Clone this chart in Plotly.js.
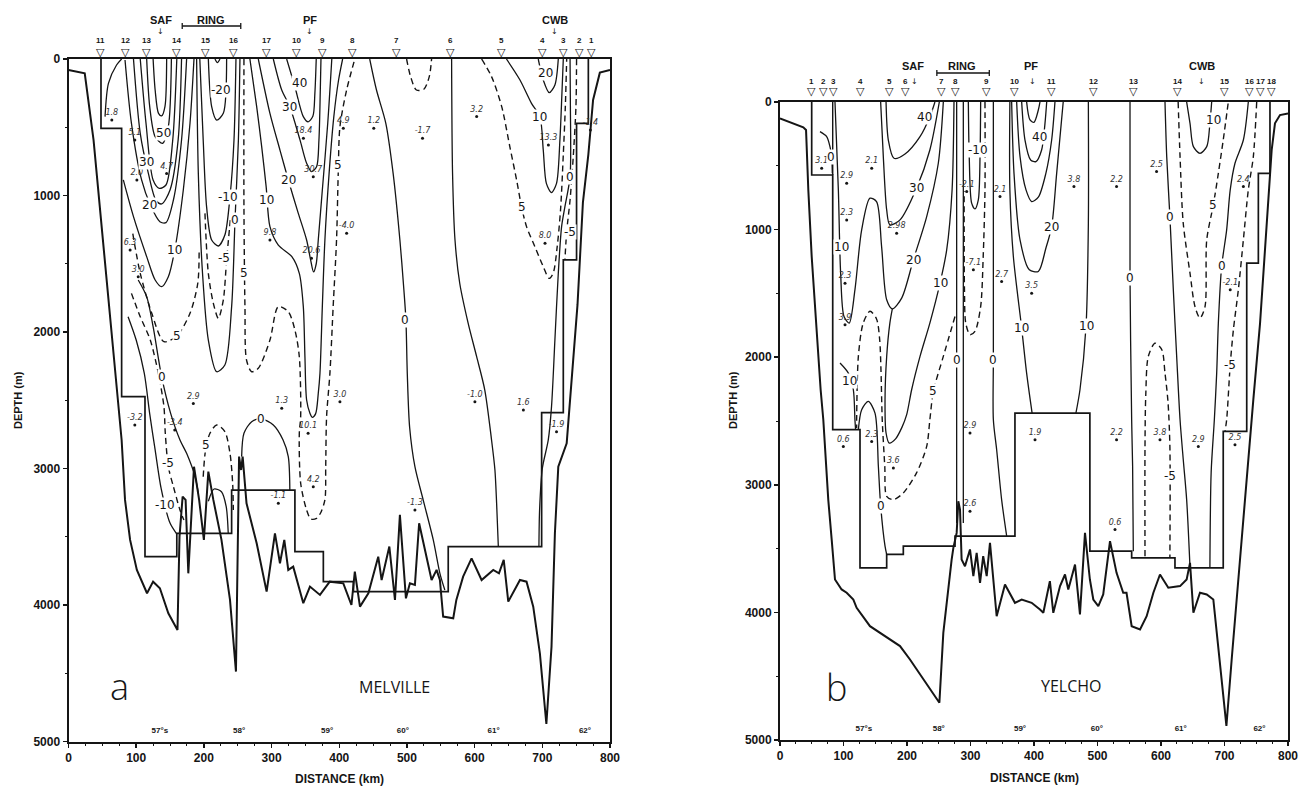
<!DOCTYPE html>
<html>
<head>
<meta charset="utf-8">
<script src="https://cdn.plot.ly/plotly-3.0.1.min.js"></script>
<style>html,body{margin:0;padding:0;background:#fff;}#chart{width:1309px;height:789px;}</style>
</head>
<body>
<div id="chart"></div>
<script>
// ================= DATA =================
// ---------- Panel a : MELVILLE ----------
const A_STATION_IDS = ['11','12','13','14','15','16','17','10','9','8','7','6','5','4','3','2','1'];
const A_STATION_KM  = [47,83.5,114.5,160,203,244,293,337.5,375,419,484,565,640,701,732,755.6,772];
const A_FRONT_NAMES = ['SAF','RING','PF','CWB'];
const A_FRONT_KM    = [136,210,357,718];
const A_ARROW_KM    = [136,356,718];
const A_RING_KM     = [168,254.5];
const A_LAT_TEXT    = ['57°s','58°','59°','60°','61°','62°'];
const A_LAT_KM      = [135,252,382,494,628,763];

const A_BATH = [[0,81],[24,105],[37,593],[51,1326],[64,2059],[74,2547],[78.5,2791],[83.5,3230],[91,3523],[101,3743],[116,3914],[125,3829],[135,3877],[147.5,4061],[161,4183],[164,3499],[168.6,3206],[173,3230],[177,3768],[185.4,2987],[193,3230],[200,3523],[206.6,3023],[214,3230],[226,3523],[238.6,3963],[247.4,4488],[252,2913],[255,3011],[257.3,2913],[263,3255],[278,3548],[292.7,3902],[305,3475],[312.4,3694],[318.8,3523],[324.7,3743],[332,3719],[346.9,3987],[356.7,3865],[371.5,3926],[386,3829],[401,3841],[406,3841],[418,4000],[423,3755],[430.6,4012],[443,3914],[457.6,3646],[462.6,3817],[474,3572],[482.3,3963],[489.6,3340],[498.5,3951],[504.4,3841],[511.8,3853],[518,3401],[526.6,3597],[536.4,3817],[543.8,3743],[548.7,3817],[553.5,4085],[568.4,4097],[573,3963],[583,3792],[595.5,3658],[610.3,3817],[627.5,3743],[636,3768],[643,3670],[649.7,3975],[667,3817],[676.7,3829],[686.6,4012],[696.4,4354],[706,4872],[713.6,4305],[718.6,3475],[723.6,2987],[736,2815],[741,2498],[745,2200],[752,1800],[760,1050],[768,700],[775,300],[785,100],[800,80]];
const A_STEP = [[48,0],[48,508],[78.5,508],[78.5,2474],[113,2474],[113,3646],[160,3646],[160,3475],[241,3475],[241,3158],[334.5,3158],[334.5,3609],[376.5,3609],[376.5,3829],[421,3829],[421,3902],[561,3902],[561,3573],[699,3573],[699,2590],[731,2590],[731,1472],[750.6,1472],[750.6,471],[768,471],[768,0]];

// solid isotachs, panel a
const A_ARC11   = [[54,422],[59,178],[71,44],[78.5,0]];
const A_SAF60   = [[125,0],[128,227],[133,398],[137.6,417],[142.5,349],[145,0]];
const A_SAF50   = [[115.5,0],[120,349],[128,569],[139,618],[147.5,496],[152,0]];
const A_SAF40   = [[106,0],[114.5,471],[125,886],[134,947],[144,923],[154,593],[160,0]];
const A_SAF30   = [[96,0],[106,545],[118,838],[129,1033],[137.6,1062],[150,960],[162,593],[167,0]];
const A_SAF20   = [[83.5,7],[93,471],[108,886],[121,1070],[135,1192],[144,1199],[155,1033],[167,593],[174.5,0]];
const A_SAF10   = [[81,886],[96,1155],[115.5,1448],[128,1619],[137.6,1668],[147.5,1595],[157,1399],[169.6,960],[179.5,471],[185.4,0]];
const A_RING30  = [[216.4,0],[220,27],[223.8,0]];
const A_RING20  = [[206.6,0],[211.5,349],[218.9,447],[228.7,398],[233.6,0]];
const A_RING10  = [[194,0],[199,593],[204,1082],[211.5,1326],[221.4,1370],[231,1290],[238.6,1009],[244.5,593],[247.4,0]];
const A_RING0   = [[189.3,0],[191.8,838],[198,1570],[206.6,2059],[218.9,2291],[231,2242],[241,1814],[246,1179],[251,593],[253.3,0]];
const A_DEEP0   = [[103,1619],[115.5,1741],[125,1961],[137.6,2327],[150.9,2596],[164.7,2791],[174.5,2889],[187,3060],[191.8,3182]];
const A_DEEPM10 = [[88,1888],[100,2059],[112,2303],[120,2600],[128,2864],[137,3150],[150,3400],[160,3480]];
const A_SMALLARCH = [[206.6,3240],[215,3150],[226,3170],[233,3280],[236,3475]];
const A_ARCH0   = [[255.8,2913],[259.2,2742],[270.6,2657],[285,2637],[302.6,2681],[317,2791],[324.7,2913],[327,3158]];
const A_PF10    = [[268,0],[278,349],[285.4,642],[292,935],[297.6,1228],[310,1363],[330,1448],[341,1570],[346.9,1814],[349.3,2181],[351.8,2498],[356.7,2596],[360,2625],[365,2600],[369,2450],[371.5,2303],[375,1814],[378.8,1326],[385,838],[392,422],[399,154],[405,0]];
const A_PF20    = [[280.4,0],[297.6,398],[312.4,667],[324.7,886],[339.5,1131],[351.8,1326],[357.7,1472],[362,1560],[366,1500],[369,1326],[375,960],[383,471],[389,0]];
const A_PF30    = [[302.6,0],[315,227],[327,349],[342,593],[351.8,764],[359,825],[366.5,790],[370,593],[372,227],[373,0]];
const A_PF40    = [[322.3,0],[334.5,203],[346.9,422],[354,460],[361,420],[364,250],[366,0]];
const A_MID0    = [[445,0],[455,227],[468.8,471],[479.6,838],[489.6,1326],[495.5,1692],[498.5,1912],[500.5,2303],[504,2700],[511.8,2987],[524,3230],[538.9,3523],[548.7,3768],[556,3890]];
const A_MIDV    = [[566,0],[567.4,838],[571,1326],[578,1643],[590.5,1937],[603,2181],[615,2425],[625,2791],[630,3011],[632.5,3255],[635,3572]];
const A_CWB10   = [[647,0],[667,154],[684,325],[696.4,422],[701.4,667],[706,911],[713.6,979],[721,911],[726,593],[729,250],[731,0]];
const A_CWB20   = [[694,0],[701.4,154],[710.3,247],[718.6,190],[723.6,0]];
const A_CWB0    = [[741,0],[741.5,349],[741,862],[733.4,1082],[728.5,1228],[723.6,1570],[718.6,2059],[713.6,2547],[708.8,2791],[700,3000],[696,3300],[695,3573]];
// dashed isotachs, panel a
const A_RINGM5  = [[201.6,1131],[206.6,1570],[214,1790],[221.4,1900],[228.7,1766],[233.6,1472],[239.5,1155]];
const A_SNAKE5  = [[259.2,0],[259.2,1082],[260.7,1814],[263,2205],[270.6,2291],[280.4,2266],[297.6,2059],[310,1814],[324.7,1851],[334.5,1985],[341,2181],[343,2620],[341,2742],[343,3108],[351.8,3304],[358,3370],[366.5,3365],[372,3330],[378.8,3230],[380,2987],[381.3,2620],[386.2,2303],[391,1814],[396,1326],[398.5,838],[401,496],[410.9,227],[423,0]];
const A_SAF5    = [[95,1280],[106,1570],[123,1863],[141,2071],[160,2030],[179.5,1863],[191,1643],[193,1400]];
const A_DEEPM5  = [[93,1717],[106,1888],[120.8,2059],[132.7,2303],[141,2547],[143,2742],[147.5,2987],[155,3133],[164.7,3304],[170.5,3377]];
const A_ARCH5   = [[199,3060],[202.5,2864],[209,2742],[218.9,2681],[231,2730],[238.6,2889],[242.5,3108],[243.5,3304]];
const A_TOPU    = [[499.5,0],[505.4,129],[514,227],[525,222],[533,129],[536.4,0]];
const A_CWB5    = [[610.3,0],[625,129],[640,349],[652,642],[662,886],[669.3,1082],[676.7,1228],[689,1375],[701.4,1521],[710,1607],[716,1570],[722,1375],[727,1100],[731,700],[734,349],[736,0]];
const A_CWBM5   = [[750.6,0],[749.7,349],[745.7,716],[741,1033],[736,1265],[733.4,1472]];

const A_CLABELS = [['50',140,545],['30',115.5,752],['20',120,1070],['10',157,1399],['-20',226,227],['-10',236,1009],['-5',229.7,1460],['0',246,1179],['5',259.2,1570],['5',160,2030],['0',137.6,2327],['-5',147.5,2962],['-10',142,3270],['5',202.5,2828],['0',285,2640],['10',292.7,1033],['20',324.7,886],['30',327,349],['40',342,178],['5',398,777],['0',497,1912],['5',669.3,1082],['10',696.4,422],['20',704,105],['0',741,862],['-5',741,1265]];
const A_DOTS = [['1.8',64,447],['5.1',98,593],['4.7',145,838],['2.0',101,886],['6.3',91,1399],['3.0',103,1595],['18.4',347,581],['30.7',361.6,862],['9.8',297.6,1326],['20.6',359,1460],['2.9',184.4,2523],['1.3',315,2559],['4.9',406,508],['1.2',451,508],['-1.7',523,581],['3.2',603,422],['13.3',709,630],['-1.4',771,520],['-4.0',410.9,1277],['8.0',704,1350],['3.0',401,2511],['-1.0',600.4,2511],['1.6',672,2571],['-1.9',721,2730],['-3.2',98,2681],['-3.4',157,2718],['10.1',354,2742],['4.2',361.6,3133],['-1.1',310,3255],['-1.3',511.8,3304]];

// ---------- Panel b : YELCHO ----------
const B_STATION_IDS = ['1','2','3','4','5','6','7','8','9','10','11','12','13','14','15','16','17','18'];
const B_STATION_KM  = [50,68,84,127,172,197,254.6,275.6,325.5,370,428,493.4,556.4,626.3,699.7,739,756,774.3];
const B_FRONT_NAMES = ['SAF','RING','PF','CWB'];
const B_FRONT_KM    = [210,287,395,664];
const B_ARROW_KM    = [212,397,664];
const B_RING_KM     = [247,329.6];
const B_LAT_TEXT    = ['57°s','58°','59°','60°','61°','62°'];
const B_LAT_KM      = [132,250,378,499,631,755];

const B_BATH = [[0,128],[36.7,198],[41,219],[44.6,689],[49.9,1211],[56.7,1733],[64,2255],[68.2,2490],[70.9,2725],[76,3116],[81.4,3429],[86.6,3742],[97,3820],[105,3846],[115.5,3899],[120.7,3964],[141.7,4108],[173,4212],[189,4264],[204.7,4369],[225.7,4525],[251,4708],[257.2,4160],[265,3794],[270.3,3586],[273,3494],[278.2,3377],[280.8,3129],[283.5,3195],[286,3586],[291.3,3638],[299.2,3507],[304.5,3716],[309.7,3533],[315,3768],[320,3559],[325.5,3716],[330.7,3455],[341.2,4030],[354.3,3781],[370,3925],[380.6,3899],[388.4,3911],[396.3,3925],[409.4,3977],[414.7,4003],[425,3755],[430.4,4003],[441,3794],[448.8,3703],[454,3820],[464.6,3625],[472.4,4016],[480.3,3377],[488,3742],[493.4,3899],[501.3,3951],[509,3859],[519.7,3442],[530,3690],[540.5,3846],[545.7,3846],[553.8,4108],[567,4134],[577.4,4030],[588,3846],[598.4,3703],[611.5,3807],[630,3794],[640.4,3742],[645.7,3612],[651,4003],[661.4,3846],[672,3859],[682.4,3899],[693,4421],[703,4890],[711.3,4369],[719,3899],[735,2986],[745.4,2333],[756,1733],[766.4,950],[774.3,376],[779.5,167],[787.4,102],[800,89]];
const B_STEP = [[49.9,0],[49.9,572],[83,572],[83,2568],[126,2568],[126,3651],[168,3651],[168,3546],[194.2,3546],[194.2,3481],[275.6,3481],[275.6,3403],[370,3403],[370,2438],[488,2438],[488,3520],[553.8,3520],[553.8,3573],[622,3573],[622,3651],[698,3651],[698,2581],[735,2581],[735,1263],[753.3,1263],[753.3,559],[771.6,559],[771.6,0]];
const B_BOX = [[83,0],[83,572]];

// solid isotachs, panel b
const B_SMALL0 = [[63,232],[73.5,271],[78.7,350],[81.4,428],[82.4,559]];
const B_SAF10  = [[86.6,0],[91.9,689],[95.5,1342],[100.8,1681],[109,1733],[118,1472],[128.6,1002],[141.7,754],[152,780],[160,1133],[168,1550],[176.9,1621],[191.6,1537],[210,1237],[231,898],[249.3,480],[257.2,0]];
const B_SAF40  = [[167,0],[170.6,298],[179.5,441],[196.9,407],[220.5,271],[236,115],[244,0]];
const B_SAF30  = [[158.5,0],[162.7,428],[168,846],[173,963],[189,924],[215,676],[236,376],[250.9,0]];
const B_SAF10R = [[274,0],[271,689],[262.5,1159],[252,1420],[236,1733],[220.5,1994],[207.3,2255],[199.5,2450],[192,2550],[182,2640],[172,2673],[167,2594],[165.4,2333],[168,1994],[173,1733],[176.9,1621]];
const B_DEEP10 = [[94.5,2046],[107.6,2125],[115.5,2255],[118,2490],[119,2568]];
const B_ARCH0  = [[123.4,2568],[128.6,2412],[139,2346],[149.6,2438],[154.9,2855],[158.5,3163],[165.4,3481],[168,3546]];
const B_RING0A = [[278.2,0],[278.2,2020],[278.2,2700],[278.2,3300]];
const B_RINGL  = [[288.7,0],[288.7,1500],[288.7,2600],[288.7,3300]];
const B_RINGM10= [[296.6,0],[298,428],[301.8,793],[307,838],[312.3,767],[315,428],[316,0]];
const B_RING0B = [[336,0],[336,1200],[336,2020],[336,2490],[341.2,2725],[349,3116],[357,3403]];
const B_PF10L  = [[362,0],[362,689],[367.5,1211],[380.6,1772],[388.4,2125],[397,2438]];
const B_PF10R  = [[485.6,0],[485.6,950],[481.9,1759],[472.4,2255],[466,2438]];
const B_PF20   = [[364.8,0],[368.5,559],[378,1081],[392.6,1315],[406.8,1328],[418.7,1146],[427.8,976],[435.7,559],[446,0]];
const B_PF30   = [[372.7,0],[378,428],[387.4,689],[396.3,780],[406.8,746],[418.7,559],[427.8,298],[433,0]];
const B_PF40   = [[380.6,0],[385.8,298],[394.7,454],[403,467],[412,376],[417.3,167],[420,0]];
const B_PF50   = [[388.4,0],[393.7,141],[400,159],[406.8,63],[409.4,0]];
const B_MID0   = [[551.2,0],[551.2,1368],[553.8,2490],[555.3,2855],[556.4,3520]];
const B_CWB0A  = [[606.3,0],[609,428],[614,898],[619.4,1472],[624.7,1994],[630,2490],[635,2800],[640.4,3116],[645.7,3651]];
const B_CWB10  = [[640.4,0],[645.7,167],[651,350],[661.4,402],[672,350],[677,167],[679.8,0]];
const B_CWB0B  = [[737.5,0],[729.7,298],[716.5,480],[709,689],[703.4,1002],[695.5,1289],[690.3,1733],[687.7,2125],[684,2490],[679,2900],[677,3651]];
// dashed isotachs, panel b
const B_SAF5   = [[275.6,1681],[257.2,1994],[241.5,2268],[236,2490],[231,2699],[215,2907],[194.2,3064],[178.5,3116],[168,3090],[165,2855],[161,2490],[159,2100],[157,1864],[152,1700],[141.7,1640],[131,1733],[123.4,1994],[120.7,2490],[120.7,2555]];
const B_RINGM5 = [[322.8,0],[322.8,689],[320,1211],[316,1603],[307,1798],[299.2,1824],[292.5,1733],[290.5,1472],[290,1000],[290,700]];
const B_MIDM5  = [[574.8,3559],[574.8,2700],[576,2300],[580,1994],[590.6,1890],[601.3,1942],[606.3,2125],[611,2350],[614,2700],[614,3573]];
const B_CWB5   = [[627,0],[630,428],[635,950],[645.7,1342],[653.5,1603],[661.4,1694],[669.3,1603],[672,1081],[682.4,806],[690.3,559],[698,298],[706,0]];
const B_CWBM5  = [[750.7,0],[745.4,428],[737.5,689],[729.7,1081],[721.8,1472],[714,1785],[709,2059],[703.4,2490],[700.8,2581]];

const B_CLABELS = [['0',80,430],['10',97,1133],['20',210,1237],['40',228.3,115],['30',215,676],['10',252,1420],['10',110,2190],['5',241.5,2268],['0',158.5,3163],['0',278.2,2020],['-10',312.3,376],['0',336,2020],['40',409.4,271],['20',427.8,976],['10',380.6,1772],['10',481.9,1759],['0',551.2,1381],['-5',614,2934],['0',614,898],['5',682.4,806],['10',682.4,141],['0',695.5,1289],['-5',709,2059]];
const B_DOTS = [['3.1',65.6,520],['2.9',105,637],['2.1',144.4,520],['2.3',105,924],['2.98',183.7,1028],['2.3',102.4,1420],['3.9',102.4,1746],['-7.1',304.5,1315],['-2.1',294,702],['2.1',346.5,741],['3.8',462.9,663],['2.2',530,663],['2.5',593,545],['2.4',729.7,663],['2.7',349,1407],['3.5',396.3,1498],['-2.1',709,1472],['0.6',99.7,2699],['2.3',144.4,2660],['3.6',178.5,2868],['2.9',299.2,2594],['2.6',299.2,3208],['1.9',401.6,2647],['2.2',530,2647],['3.8',598.4,2647],['2.9',658.8,2699],['2.5',716.5,2686],['0.6',527.6,3351]];

const DEPTH_TICKS = [0,1000,2000,3000,4000,5000];
const DIST_TICKS  = [0,100,200,300,400,500,600,700,800];

// ================= STYLE / LAYOUT =================
const INK = '#151515';
const W = 1309, H = 789;
// frame pixel positions of each panel
const FA = {l:68.5, r:610, t:59, b:741.5};
const FB = {l:780, r:1288, t:102, b:740};

const A_SOLID  = [A_ARC11,A_SAF60,A_SAF50,A_SAF40,A_SAF30,A_SAF20,A_SAF10,A_RING30,A_RING20,A_RING10,A_RING0,A_DEEP0,A_DEEPM10,A_SMALLARCH,A_ARCH0,A_PF10,A_PF20,A_PF30,A_PF40,A_MID0,A_MIDV,A_CWB10,A_CWB20,A_CWB0];
const A_DASHED = [A_RINGM5,A_SNAKE5,A_SAF5,A_DEEPM5,A_ARCH5,A_TOPU,A_CWB5,A_CWBM5];
const B_SOLID  = [B_SMALL0,B_SAF10,B_SAF40,B_SAF30,B_SAF10R,B_DEEP10,B_ARCH0,B_RING0A,B_RINGL,B_RINGM10,B_RING0B,B_PF10L,B_PF10R,B_PF20,B_PF30,B_PF40,B_PF50,B_MID0,B_CWB0A,B_CWB10,B_CWB0B];
const B_DASHED = [B_SAF5,B_RINGM5,B_MIDM5,B_CWB5,B_CWBM5];

function poly(pts, xa, ya, line) {
  return {type:'scatter', mode:'lines', x:pts.map(p=>p[0]), y:pts.map(p=>p[1]),
    xaxis:xa, yaxis:ya, line:line, hoverinfo:'skip', showlegend:false};
}
const traces = [];
function addPanel(xa, ya, solid, dashed, bath, step, extra) {
  solid.forEach(p => traces.push(poly(p, xa, ya, {color:INK, width:1.3, shape:'spline', smoothing:0.8})));
  dashed.forEach(p => traces.push(poly(p, xa, ya, {color:INK, width:1.4, dash:'6px,4px', shape:'spline', smoothing:0.8})));
  extra.forEach(p => traces.push(poly(p, xa, ya, {color:INK, width:1.4})));
  traces.push(poly(step, xa, ya, {color:INK, width:1.7}));
  traces.push(poly(bath, xa, ya, {color:INK, width:2}));
}
addPanel('x','y', A_SOLID, A_DASHED, A_BATH, A_STEP, []);
addPanel('x2','y2', B_SOLID, B_DASHED, B_BATH, B_STEP, [B_BOX]);

// dotted station values
function dots(list, xa, ya) {
  traces.push({type:'scatter', mode:'markers+text', x:list.map(d=>d[1]), y:list.map(d=>d[2]),
    text:list.map(d=>d[0]), textposition:'top center',
    textfont:{family:'DejaVu Sans', size:8, style:'italic', color:'#333'},
    marker:{size:3, color:INK}, xaxis:xa, yaxis:ya, hoverinfo:'skip', showlegend:false});
}
dots(A_DOTS,'x','y');
dots(B_DOTS,'x2','y2');

// latitude labels along the bottom of each panel
traces.push({type:'scatter', mode:'text', x:A_LAT_KM, y:A_LAT_KM.map(()=>4925), text:A_LAT_TEXT, xaxis:'x', yaxis:'y',
  textfont:{family:'Liberation Sans', size:8, weight:'bold', color:INK}, hoverinfo:'skip', showlegend:false});
traces.push({type:'scatter', mode:'text', x:B_LAT_KM, y:B_LAT_KM.map(()=>4915), text:B_LAT_TEXT, xaxis:'x2', yaxis:'y2',
  textfont:{family:'Liberation Sans', size:8, weight:'bold', color:INK}, hoverinfo:'skip', showlegend:false});

function xAx(dom, anchor) {
  return {domain:dom, anchor:anchor, range:[0,800], tickvals:DIST_TICKS, ticktext:DIST_TICKS.map(String),
    showline:true, mirror:true, linewidth:2, linecolor:INK, ticks:'outside', ticklen:4, tickwidth:1.5, tickcolor:INK,
    minor:{dtick:25, tick0:0, ticks:'outside', ticklen:2, tickwidth:1, tickcolor:INK},
    showgrid:false, zeroline:false, fixedrange:true,
    tickfont:{family:'Liberation Sans', size:12, weight:'bold', color:INK}};
}
function yAx(dom, anchor) {
  return {domain:dom, anchor:anchor, range:[5000,0], tickvals:DEPTH_TICKS, ticktext:DEPTH_TICKS.map(String),
    showline:true, mirror:true, linewidth:2, linecolor:INK, ticks:'outside', ticklen:4, tickwidth:1.5, tickcolor:INK,
    minor:{dtick:500, tick0:0, ticks:'outside', ticklen:2, tickwidth:1, tickcolor:INK},
    showgrid:false, zeroline:false, fixedrange:true,
    tickfont:{family:'Liberation Sans', size:12, weight:'bold', color:INK}};
}

const annotations = [];
function clabels(list, xr, yr) {
  list.forEach(l => annotations.push({x:l[1], y:l[2], xref:xr, yref:yr, text:l[0], showarrow:false,
    xanchor:'center', yanchor:'middle', bgcolor:'#ffffff', borderpad:0, font:{family:'DejaVu Sans', size:12, color:INK}}));
}
clabels(A_CLABELS,'x','y');
clabels(B_CLABELS,'x2','y2');

// decorations above each frame (station triangles, numbers, fronts, arrows): heights given in pixels above the frame
function topDecor(ids, km, fronts, frontKm, arrowKm, xr, yr, hPix, o) {
  const up = px => 1 + px / hPix;
  const base = {xref:xr, yref:yr, showarrow:false, xanchor:'center', yanchor:'middle'};
  km.forEach((k,i) => {
    annotations.push(Object.assign({x:k, y:up(o.tri), text:'▽', font:{family:'DejaVu Sans', size:11, color:INK}}, base));
    annotations.push(Object.assign({x:k, y:up(o.num), text:ids[i], font:{family:'Liberation Sans', size:8, weight:'bold', color:INK}}, base));
  });
  frontKm.forEach((k,i) => annotations.push(Object.assign({x:k, y:up(o.front), text:fronts[i],
    font:{family:'Liberation Sans', size:11, weight:'bold', color:INK}}, base)));
  arrowKm.forEach(k => annotations.push(Object.assign({x:k, y:up(o.arrow), text:'↓',
    font:{family:'DejaVu Sans', size:8, color:INK}}, base)));
}
topDecor(A_STATION_IDS, A_STATION_KM, A_FRONT_NAMES, A_FRONT_KM, A_ARROW_KM, 'x', 'y domain', FA.b-FA.t, {tri:7, num:19, arrow:27, front:39});
topDecor(B_STATION_IDS, B_STATION_KM, B_FRONT_NAMES, B_FRONT_KM, B_ARROW_KM, 'x2', 'y2 domain', FB.b-FB.t, {tri:11, num:21, arrow:21, front:36});

// panel letters and ship names
annotations.push({x:76, y:4600, xref:'x', yref:'y', text:'a', showarrow:false, xanchor:'center', yanchor:'middle', font:{family:'Open Sans', size:36, weight:300, color:INK}});
annotations.push({x:481, y:4600, xref:'x', yref:'y', text:'MELVILLE', showarrow:false, xanchor:'center', yanchor:'middle', font:{family:'Open Sans', size:16, color:INK}});
annotations.push({x:89, y:4590, xref:'x2', yref:'y2', text:'b', showarrow:false, xanchor:'center', yanchor:'middle', font:{family:'Open Sans', size:36, weight:300, color:INK}});
annotations.push({x:459, y:4580, xref:'x2', yref:'y2', text:'YELCHO', showarrow:false, xanchor:'center', yanchor:'middle', font:{family:'Open Sans', size:16, color:INK}});
// axis titles
const titleFont = {family:'Liberation Sans', size:11, weight:'bold', color:INK};
const pAnn = {xref:'paper', yref:'paper', showarrow:false, xanchor:'center', yanchor:'middle'};
annotations.push(Object.assign({x:18/W, y:1-400/H, text:'DEPTH (m)', textangle:-90, font:titleFont}, pAnn));
annotations.push(Object.assign({x:733/W, y:1-400/H, text:'DEPTH (m)', textangle:-90, font:titleFont}, pAnn));
annotations.push(Object.assign({x:((FA.l+FA.r)/2)/W, y:1-779/H, text:'DISTANCE (km)', font:{family:'Liberation Sans', size:12, weight:'bold', color:INK}}, pAnn));
annotations.push(Object.assign({x:((FB.l+FB.r)/2)/W, y:1-778/H, text:'DISTANCE (km)', font:{family:'Liberation Sans', size:12, weight:'bold', color:INK}}, pAnn));

// RING brackets
const shapes = [];
function bracket(km, xr, yr, yy, tick) {
  const ln = {color:INK, width:1.3};
  shapes.push({type:'line', xref:xr, yref:yr, x0:km[0], x1:km[1], y0:yy, y1:yy, line:ln});
  shapes.push({type:'line', xref:xr, yref:yr, x0:km[0], x1:km[0], y0:yy-tick, y1:yy+tick, line:ln});
  shapes.push({type:'line', xref:xr, yref:yr, x0:km[1], x1:km[1], y0:yy-tick, y1:yy+tick, line:ln});
}
bracket(A_RING_KM, 'x', 'y domain', 1 + 33/(FA.b-FA.t), 3/(FA.b-FA.t));
bracket(B_RING_KM, 'x2', 'y2 domain', 1 + 29/(FB.b-FB.t), 3/(FB.b-FB.t));

const layout = {
  width:W, height:H, margin:{l:0,r:0,t:0,b:0}, paper_bgcolor:'#ffffff', plot_bgcolor:'#ffffff',
  showlegend:false,
  xaxis: xAx([FA.l/W, FA.r/W], 'y'),
  yaxis: yAx([1-FA.b/H, 1-FA.t/H], 'x'),
  xaxis2: xAx([FB.l/W, FB.r/W], 'y2'),
  yaxis2: yAx([1-FB.b/H, 1-FB.t/H], 'x2'),
  annotations: annotations, shapes: shapes
};
Plotly.newPlot('chart', traces, layout, {staticPlot:true, displayModeBar:false});
</script>
</body>
</html>
